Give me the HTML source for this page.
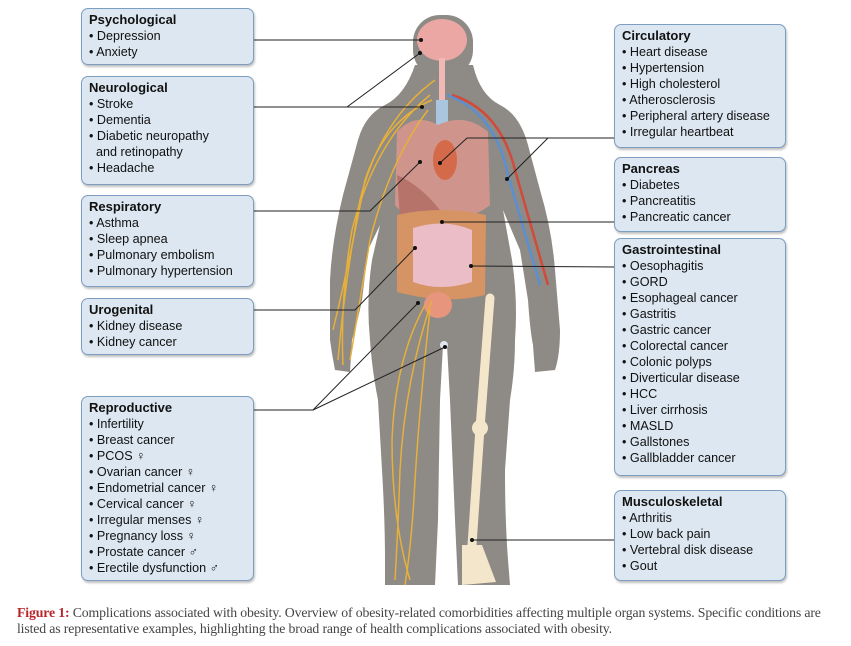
<!DOCTYPE html>
<html><head><style>
body{margin:0;width:851px;height:646px;background:#fff;position:relative;overflow:hidden;font-family:"Liberation Sans",sans-serif;}
.b{position:absolute;background:#dce7f1;border:1.5px solid #7d9dc2;border-radius:7px;box-shadow:1px 2px 2px rgba(0,0,0,.25);font-size:12.6px;line-height:16px;color:#111;padding:3px 0 0 7px;box-sizing:border-box;}
.b b{display:block;font-size:13px;}
.cap{position:absolute;left:17px;top:605px;width:830px;font-family:"Liberation Serif",serif;font-size:13.8px;line-height:16px;color:#444;letter-spacing:-0.15px;}
.cap span{color:#b8242a;font-weight:bold;}
</style></head><body>
<svg width="851" height="646" style="position:absolute;left:0;top:0">
<g fill="#8e8a85">
<rect x="413" y="15" width="60" height="62" rx="27"/>
<path d="M415 65 L473 65 Q480 95 500 105 Q520 115 528 145 L540 190 Q552 230 555 270 L560 330 Q560 355 555 370 L535 372 L533 345 Q530 330 528 300 L520 250 L503 210 L512 260 Q518 300 515 340 Q515 370 510 400 L505 470 Q505 520 508 560 L510 585 L458 585 L455 520 L450 400 L447 345 L443 345 L440 400 L438 520 L435 585 L385 585 L385 560 Q385 520 382 470 L378 400 Q372 370 370 340 Q366 300 372 260 L380 225 L368 250 L362 300 Q358 320 352 340 L350 372 L335 370 Q332 355 330 340 L330 280 Q332 240 343 195 L358 140 Q365 115 385 105 Q405 95 415 65 Z"/>
</g>
<ellipse cx="442" cy="40" rx="25" ry="21" fill="#eaa7a3"/>
<rect x="439" y="58" width="6" height="45" fill="#f1b9b5"/>
<rect x="436" y="100" width="12" height="45" fill="#a9c6de"/>
<path d="M397 132 Q415 112 438 125 Q465 112 488 132 L490 205 Q470 222 442 212 Q410 225 395 205 Z" fill="#cf958c"/>
<path d="M397 175 Q420 185 440 210 L400 218 Z" fill="#b5736a"/>
<ellipse cx="445" cy="160" rx="12" ry="20" fill="#d46a4a"/>
<path d="M397 215 Q440 205 486 215 L485 295 Q445 305 397 292 Z" fill="#d69363"/>
<path d="M413 228 Q445 218 472 230 L472 282 Q440 292 413 282 Z" fill="#ebbdc6"/>
<ellipse cx="438" cy="305" rx="14" ry="13" fill="#e8957d"/>
<circle cx="444" cy="345" r="4" fill="#dfe7f0"/>
<path d="M452 95 Q500 110 515 170 L548 285" stroke="#d24a3a" stroke-width="2.5" fill="none"/>
<path d="M447 95 Q495 112 508 175 L540 285" stroke="#5a8fd0" stroke-width="2.5" fill="none"/>
<g stroke="#e7b03a" stroke-width="1.5" fill="none">
<path d="M435 80 Q380 120 360 200 Q345 280 338 360"/>
<path d="M430 95 Q375 140 352 230 Q340 300 343 365"/>
<path d="M428 110 Q390 160 370 240 Q360 300 350 360"/>
<path d="M432 100 Q385 120 365 180 Q350 260 333 330"/>
<path d="M432 300 Q405 380 400 470 Q398 530 395 580"/>
<path d="M430 310 Q420 400 415 480 Q412 540 405 585"/>
<path d="M425 305 Q395 360 392 440 Q392 520 410 580"/>
</g>
<g stroke="#f3e6cb" stroke-width="9" fill="none" stroke-linecap="round">
<path d="M490 298 L480 428 L472 545"/>
</g>
<circle cx="480" cy="428" r="8" fill="#f3e6cb"/>
<path d="M462 545 L482 545 L496 582 L462 585 Z" fill="#f3e6cb"/>
<g stroke="#222" stroke-width="1" fill="none">
<path d="M254 40 L421 40"/>
<path d="M254 107 L422 107"/><path d="M347 107 L420 53"/>
<path d="M254 211 L370 211 L420 162"/>
<path d="M254 310 L355 310 L415 248"/>
<path d="M254 410 L313 410 L418 303"/><path d="M313 410 L445 347"/>
<path d="M614 138 L467 138 L440 163"/><path d="M548 138 L507 179"/>
<path d="M614 222 L442 222"/>
<path d="M614 267 L471 266"/>
<path d="M614 540 L472 540"/>
</g>
<g fill="#111">
<circle cx="421" cy="40" r="2"/><circle cx="420" cy="53" r="2"/><circle cx="422" cy="107" r="2"/>
<circle cx="420" cy="162" r="2"/><circle cx="415" cy="248" r="2"/><circle cx="418" cy="303" r="2"/>
<circle cx="445" cy="347" r="2"/><circle cx="440" cy="163" r="2"/><circle cx="507" cy="179" r="2"/>
<circle cx="442" cy="222" r="2"/><circle cx="471" cy="266" r="2"/><circle cx="472" cy="540" r="2"/>
</g>
</svg>
<div class="b" style="left:81px;top:8px;width:173px;height:57px"><b>Psychological</b>• Depression<br>• Anxiety</div>
<div class="b" style="left:81px;top:76px;width:173px;height:109px"><b>Neurological</b>• Stroke<br>• Dementia<br>• Diabetic neuropathy<br>&nbsp;&nbsp;and retinopathy<br>• Headache</div>
<div class="b" style="left:81px;top:195px;width:173px;height:92px"><b>Respiratory</b>• Asthma<br>• Sleep apnea<br>• Pulmonary embolism<br>• Pulmonary hypertension</div>
<div class="b" style="left:81px;top:298px;width:173px;height:57px"><b>Urogenital</b>• Kidney disease<br>• Kidney cancer</div>
<div class="b" style="left:81px;top:396px;width:173px;height:185px"><b>Reproductive</b>• Infertility<br>• Breast cancer<br>• PCOS ♀<br>• Ovarian cancer ♀<br>• Endometrial cancer ♀<br>• Cervical cancer ♀<br>• Irregular menses ♀<br>• Pregnancy loss ♀<br>• Prostate cancer ♂<br>• Erectile dysfunction ♂</div>
<div class="b" style="left:614px;top:24px;width:172px;height:124px"><b>Circulatory</b>• Heart disease<br>• Hypertension<br>• High cholesterol<br>• Atherosclerosis<br>• Peripheral artery disease<br>• Irregular heartbeat</div>
<div class="b" style="left:614px;top:157px;width:172px;height:75px"><b>Pancreas</b>• Diabetes<br>• Pancreatitis<br>• Pancreatic cancer</div>
<div class="b" style="left:614px;top:238px;width:172px;height:238px"><b>Gastrointestinal</b>• Oesophagitis<br>• GORD<br>• Esophageal cancer<br>• Gastritis<br>• Gastric cancer<br>• Colorectal cancer<br>• Colonic polyps<br>• Diverticular disease<br>• HCC<br>• Liver cirrhosis<br>• MASLD<br>• Gallstones<br>• Gallbladder cancer</div>
<div class="b" style="left:614px;top:490px;width:172px;height:91px"><b>Musculoskeletal</b>• Arthritis<br>• Low back pain<br>• Vertebral disk disease<br>• Gout</div>
<div class="cap"><span>Figure 1:</span> Complications associated with obesity. Overview of obesity-related comorbidities affecting multiple organ systems. Specific conditions are listed as representative examples, highlighting the broad range of health complications associated with obesity.</div>
</body></html>
